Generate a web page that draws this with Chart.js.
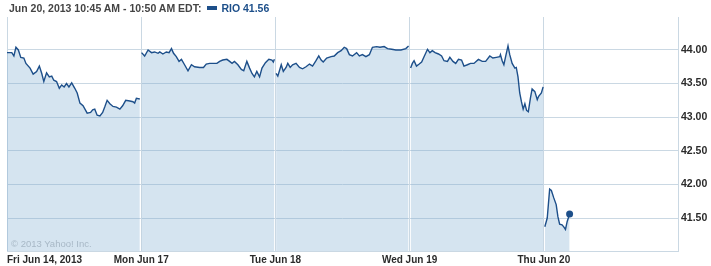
<!DOCTYPE html>
<html>
<head>
<meta charset="utf-8">
<script src="https://cdn.jsdelivr.net/npm/chart.js@4"></script>
<style>
  body { margin: 0; background: #fff; }
  #wrap { position: relative; width: 711px; height: 266px; }
  #head { position: absolute; left: 9px; top: 1px; font: 10.5px 'Liberation Sans', Arial, sans-serif; color: #444; white-space: nowrap; line-height: 14px; }
  #head b.sym { color: #1d4f8a; }
  #head span.box { display: inline-block; width: 10px; height: 4px; background: #1d4f8a; margin: 0 4px 2px 6px; vertical-align: middle; }
  #copy { position: absolute; left: 11px; top: 238px; font: 9.5px 'Liberation Sans', Arial, sans-serif; color: #a8b8c6; white-space: nowrap; }
</style>
</head>
<body>
<div id="wrap">
  <canvas id="rio" width="711" height="266"></canvas>
  <div id="head"><b>Jun 20, 2013 10:45 AM - 10:50 AM EDT:</b><span class="box"></span><b class="sym">RIO 41.56</b></div>
  <div id="copy">© 2013 Yahoo! Inc.</div>
</div>
<script>
// RIO intraday, Jun 14 - Jun 20 2013 (minutes from 9:30 open, price)

var dayLength = 390;

var friMinutes = [0, 14, 20, 26, 33, 40, 49, 55, 67, 76, 86, 94, 101, 107, 115, 123, 130, 136, 144, 152, 159, 166, 173, 180, 188, 197, 204, 212, 221, 233, 243, 249, 255, 262, 270, 278, 284, 291, 299, 308, 318, 328, 336, 345, 357, 366, 371, 376, 386];
var friPrices = [43.96, 43.96, 43.91, 44.04, 44.00, 43.89, 43.88, 43.80, 43.73, 43.64, 43.68, 43.76, 43.65, 43.53, 43.66, 43.60, 43.61, 43.55, 43.53, 43.43, 43.48, 43.45, 43.50, 43.45, 43.51, 43.43, 43.36, 43.21, 43.17, 43.06, 43.07, 43.11, 43.12, 43.03, 43.02, 43.07, 43.15, 43.25, 43.20, 43.16, 43.15, 43.12, 43.17, 43.25, 43.24, 43.23, 43.21, 43.28, 43.27];

var monMinutes = [1, 10, 20, 30, 39, 49, 54, 63, 73, 81, 88, 94, 102, 110, 117, 126, 136, 146, 155, 170, 181, 189, 199, 208, 220, 228, 237, 249, 257, 264, 271, 281, 291, 298, 307, 315, 322, 329, 336, 344, 351, 361, 371, 380, 384, 387];
var monPrices = [43.96, 43.91, 44.00, 43.96, 43.97, 43.95, 43.97, 43.94, 43.97, 43.96, 44.02, 43.95, 43.90, 43.83, 43.86, 43.78, 43.69, 43.78, 43.75, 43.74, 43.74, 43.79, 43.80, 43.80, 43.80, 43.83, 43.85, 43.86, 43.83, 43.80, 43.83, 43.78, 43.71, 43.69, 43.83, 43.73, 43.65, 43.60, 43.68, 43.60, 43.73, 43.81, 43.86, 43.85, 43.82, 43.86];

var tueMinutes = [2, 7, 17, 23, 31, 36, 43, 50, 60, 70, 79, 89, 99, 108, 118, 126, 133, 139, 149, 162, 171, 181, 191, 200, 207, 215, 224, 236, 244, 253, 263, 273, 282, 294, 304, 316, 326, 338, 350, 365, 379, 387];
var tuePrices = [43.65, 43.61, 43.78, 43.68, 43.74, 43.80, 43.74, 43.78, 43.80, 43.74, 43.72, 43.75, 43.79, 43.76, 43.84, 43.91, 43.85, 43.82, 43.88, 43.90, 43.91, 43.96, 43.99, 44.04, 44.02, 43.93, 43.91, 43.96, 43.91, 43.93, 43.90, 43.93, 44.04, 44.05, 44.04, 44.05, 44.02, 44.01, 44.00, 44.00, 44.02, 44.06];

var wedMinutes = [3, 8, 13, 20, 28, 35, 42, 52, 59, 66, 74, 84, 93, 100, 110, 117, 126, 134, 142, 151, 158, 168, 177, 187, 200, 211, 221, 233, 242, 252, 262, 264, 269, 274, 279, 286, 291, 298, 306, 310, 315, 320, 325, 330, 335, 340, 345, 351, 356, 364, 371, 375, 383, 388];
var wedPrices = [43.73, 43.80, 43.84, 43.76, 43.79, 43.82, 43.90, 44.01, 43.96, 43.99, 43.96, 43.94, 43.91, 43.84, 43.83, 43.89, 43.83, 43.80, 43.86, 43.85, 43.76, 43.78, 43.80, 43.80, 43.86, 43.83, 43.83, 43.91, 43.88, 43.89, 43.90, 43.93, 43.84, 43.78, 43.90, 44.06, 43.93, 43.80, 43.73, 43.74, 43.60, 43.36, 43.23, 43.12, 43.20, 43.10, 43.08, 43.28, 43.42, 43.38, 43.26, 43.31, 43.36, 43.45];

var thuMinutes = [3, 10, 17, 22, 29, 36, 41, 46, 53, 58, 63, 68, 75];
var thuPrices = [41.37, 41.50, 41.93, 41.91, 41.80, 41.70, 41.52, 41.41, 41.40, 41.37, 41.33, 41.45, 41.56];

var xTickPos = [0, 390, 780, 1170, 1560, 1950];
var xLabels = ['Fri Jun 14, 2013', 'Mon Jun 17', 'Tue Jun 18', 'Wed Jun 19', 'Thu Jun 20', ''];
var yTicks = [41.5, 42, 42.5, 43, 43.5, 44];

var days = [
  [friMinutes, friPrices],
  [monMinutes, monPrices],
  [tueMinutes, tuePrices],
  [wedMinutes, wedPrices],
  [thuMinutes, thuPrices]
];

// one series, with a null between sessions so the line breaks overnight
var points = [];
days.forEach(function (d, i) {
  for (var k = 0; k < d[0].length; k++) {
    points.push({ x: i * dayLength + d[0][k], y: d[1][k] });
  }
  if (i < days.length - 1) {
    points.push({ x: i * dayLength + dayLength - 1, y: null });
  }
});
var lastIndex = points.length - 1;

var gridColor = '#cad8e3';

Chart.defaults.font.family = "'Liberation Sans', Arial, sans-serif";

new Chart(document.getElementById('rio').getContext('2d'), {
  type: 'line',
  data: {
    datasets: [{
      label: 'RIO',
      data: points,
      borderColor: '#1d4f8a',
      borderWidth: 1.4,
      backgroundColor: 'rgba(125,170,208,0.32)',
      fill: 'start',
      tension: 0,
      spanGaps: false,
      pointRadius: function (ctx) { return ctx.dataIndex === lastIndex ? 3.5 : 0; },
      pointBackgroundColor: '#1d4f8a',
      pointBorderColor: '#1d4f8a',
      pointBorderWidth: 0
    }]
  },
  options: {
    responsive: false,
    animation: false,
    layout: { padding: { left: 7, top: 17, right: 0, bottom: 0 } },
    plugins: {
      legend: { display: false },
      tooltip: { enabled: false }
    },
    scales: {
      x: {
        type: 'linear',
        min: 0,
        max: 1950,
        grid: { color: gridColor, drawTicks: false },
        border: { color: gridColor },
        ticks: {
          autoSkip: false,
          maxRotation: 0,
          align: 'inner',
          padding: 3,
          color: '#2b2b2b',
          font: { size: 10, weight: 'bold' },
          callback: function (v, i) { return xLabels[i]; }
        },
        afterBuildTicks: function (axis) {
          axis.ticks = xTickPos.map(function (v) { return { value: v }; });
        },
        afterFit: function (axis) { axis.height = 15; }
      },
      y: {
        position: 'right',
        min: 41.01,
        max: 44.49,
        grid: { color: gridColor, drawTicks: false },
        border: { color: gridColor },
        ticks: {
          padding: 3,
          color: '#2b2b2b',
          font: { size: 10.5, weight: 'bold' },
          callback: function (v) { return v.toFixed(2); }
        },
        afterBuildTicks: function (axis) {
          axis.ticks = yTicks.map(function (v) { return { value: v }; });
        },
        afterFit: function (axis) { axis.width = 33; }
      }
    }
  }
});
</script>
</body>
</html>
